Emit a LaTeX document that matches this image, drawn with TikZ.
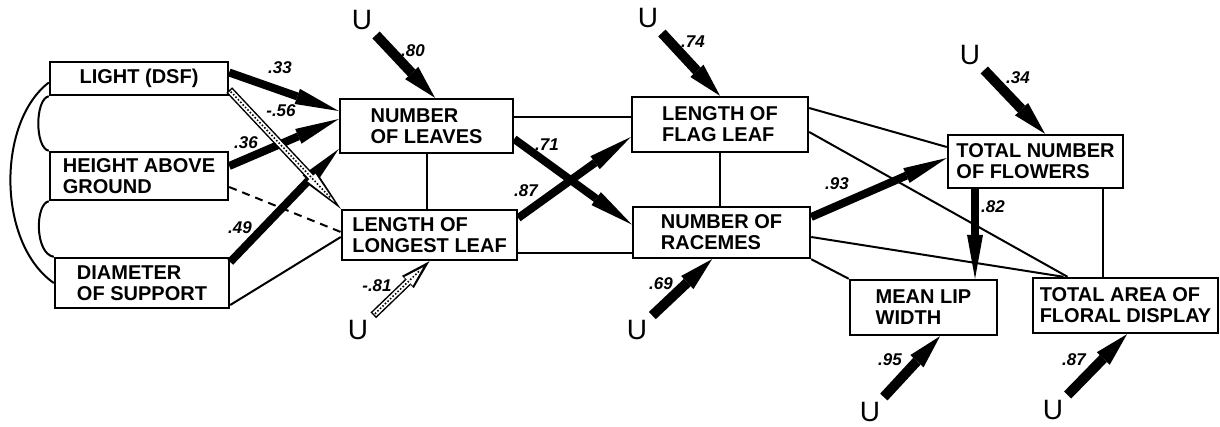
\documentclass[tikz,border=0pt]{standalone}
\usepackage{fontspec}
\setmainfont{Liberation Sans}
\usetikzlibrary{positioning,calc}
\usetikzlibrary{arrows.meta}
\tikzset{
  varbox/.style={draw=black,line width=2.4pt,fill=white,align=left,inner sep=0pt,
    font=\fontsize{20}{21}\selectfont\bfseries},
  link/.style={draw=black,line width=2pt},
  dashlink/.style={link,dash pattern=on 8pt off 6pt},
  direct/.style={draw=black,line width=8pt,-{Triangle[length=44pt,width=16pt,line width=0pt]}},
  resid/.style={draw=black,line width=10pt,-{Triangle[length=34pt,width=18pt,line width=0pt]}},
  negdirect/.style={draw=black,line width=8pt,-{Triangle[length=45pt,width=16pt,line width=0pt]},
    postaction={draw=white,line width=5pt,shorten <=1.5pt,shorten >=9pt,
      -{Triangle[length=34pt,width=11pt,line width=0pt]}},
    postaction={draw=black,line width=2.2pt,line cap=round,dash pattern=on 0pt off 3.5pt,
      shorten <=3pt,shorten >=14pt,-}},
  negresid/.style={draw=black,line width=8pt,-{Triangle[length=30pt,width=17pt,line width=0pt]},
    postaction={draw=white,line width=5pt,shorten <=1.5pt,shorten >=9pt,
      -{Triangle[length=20pt,width=12pt,line width=0pt]}},
    postaction={draw=black,line width=2.2pt,line cap=round,dash pattern=on 0pt off 3.5pt,
      shorten <=3pt,shorten >=12pt,-}},
  coef/.style={font=\fontsize{17}{17}\selectfont\bfseries\itshape,inner sep=1pt},
  err/.style={font=\fontsize{28}{28}\selectfont,inner sep=5pt},
}

\begin{document}
\begin{tikzpicture}[x=1pt,y=-1pt]
\useasboundingbox (0,0) rectangle (1220,426);
% variables
\node[varbox,minimum width=178pt,minimum height=33pt] (light) at (139,78.5) {LIGHT (DSF)};
\node[varbox,minimum width=178pt,minimum height=48pt] (height) at (139,176) {HEIGHT ABOVE\\GROUND};
\node[varbox,minimum width=174pt,minimum height=50pt] (diam) at (142,283) {DIAMETER\\OF SUPPORT};
\node[varbox,minimum width=173pt,minimum height=54pt] (nol) at (426.5,126) {NUMBER\\OF LEAVES};
\node[varbox,minimum width=175pt,minimum height=50pt] (lll) at (429.5,235) {LENGTH OF\\LONGEST LEAF};
\node[varbox,minimum width=176pt,minimum height=55pt] (flag) at (720,124.5) {LENGTH OF\\FLAG LEAF};
\node[varbox,minimum width=177pt,minimum height=51pt] (rac) at (721.5,232.5) {NUMBER OF\\RACEMES};
\node[varbox,minimum width=175pt,minimum height=53pt] (tnf) at (1035.5,161.5) {TOTAL NUMBER\\OF FLOWERS};
\node[varbox,minimum width=147pt,minimum height=55pt] (mlw) at (923.5,307.5) {MEAN LIP\\WIDTH};
\node[varbox,minimum width=185pt,minimum height=55pt] (tafd) at (1125.5,305.5) {TOTAL AREA OF\\FLORAL DISPLAY};
% residuals
\node[err] (u1) at (362,20) {U};
\node[err] (u2) at (648,18) {U};
\node[err] (u3) at (970,55) {U};
\node[err] (u4) at (358,330) {U};
\node[err] (u5) at (637,330) {U};
\node[err] (u6) at (870,412) {U};
\node[err] (u7) at (1053,410) {U};
% correlations
\draw[link] (light.south west) .. controls +(-14,3) and +(-14,-3) .. (height.north west);
\draw[link] (height.south west) .. controls +(-14,3) and +(-19,-3) .. (diam.north west);
\draw[link] ([yshift=-4pt]light.west) .. controls +(-52,40) and +(-57,-40) .. (diam.west);
\draw[link] (nol.south) -- (nol.south |- lll.north);
\draw[link] ([yshift=9pt]nol.east) -- ([yshift=7.5pt]flag.west);
\draw[link] ([yshift=-18pt]lll.east) -- ([yshift=-20.5pt]rac.west);
\draw[link] ([yshift=-22pt]diam.east) -- ([yshift=-2pt]lll.west);
\draw[dashlink] ([yshift=-11pt]height.east) -- ([yshift=3pt]lll.west);
\draw[link] (flag.south) -- (flag.south |- rac.north);
\draw[link] ([yshift=16.5pt]flag.east) -- ([yshift=14.5pt]tnf.west);
\draw[link] ([yshift=-7.5pt]flag.east) -- ([xshift=-58pt]tafd.north);
\draw[link] ([yshift=-4.5pt]rac.east) -- ([xshift=-62pt]tafd.north);
\draw[link] (rac.south east) -- (mlw.north west);
\draw[link] ([xshift=-22.5pt]tnf.south -| tafd.north) -- ([xshift=-22.5pt]tafd.north);
% paths
\draw[direct] ([yshift=6pt]light.east) -- ([yshift=15pt]nol.west);
\draw[direct] ([yshift=10pt]height.east) -- ([yshift=7pt]nol.west);
\draw[direct] ([yshift=21pt]diam.east) -- ([yshift=-23pt]nol.west);
\draw[negdirect] ([yshift=-11.5pt]light.east) -- (lll.north west);
\draw[direct] ([yshift=-13pt]nol.east) -- ([yshift=8pt]rac.west);
\draw[direct] ([yshift=17pt]lll.east) -- ([yshift=-12.5pt]flag.west);
\draw[direct] ([yshift=15.5pt]rac.east) -- ([yshift=3.5pt]tnf.west);
\draw[direct] ([xshift=-60.5pt]tnf.south) -- ([xshift=51.5pt]mlw.north);
\draw[resid] (u1) -- ([xshift=8.5pt]nol.north);
\draw[resid] (u2) -- (flag.north);
\draw[resid] (u3) -- ([xshift=9.5pt]tnf.north);
\draw[negresid] (u4) -- (lll.south);
\draw[resid] (u5) -- ([xshift=-9.5pt]rac.south);
\draw[resid] (u6) -- ([xshift=16.5pt]mlw.south);
\draw[resid] (u7) -- ([xshift=1.5pt]tafd.south);
% coefficients
\node[coef] (c1) at (280,68) {.33};
\node[coef] (c2) at (281,111) {-.56};
\node[coef] (c3) at (246,143) {.36};
\node[coef] (c4) at (240,228) {.49};
\node[coef] (c5) at (377,286) {-.81};
\node[coef] (c6) at (413,51) {.80};
\node[coef] (c7) at (547,145) {.71};
\node[coef] (c8) at (526,191) {.87};
\node[coef] (c9) at (693,42) {.74};
\node[coef] (c10) at (661,284) {.69};
\node[coef] (c11) at (837,184) {.93};
\node[coef] (c12) at (1018,78) {.34};
\node[coef] (c13) at (993,207) {.82};
\node[coef] (c14) at (890,360) {.95};
\node[coef] (c15) at (1074,360) {.87};
\end{tikzpicture}
\end{document}
